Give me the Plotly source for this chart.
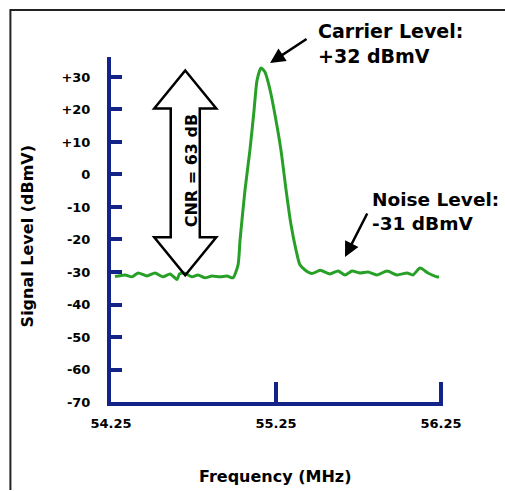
import plotly.graph_objects as go

# ---- data ----
freq_mhz = [54.274, 54.335, 54.377, 54.414, 54.468, 54.517, 54.565, 54.608, 54.650, 54.665,
            54.692, 54.741, 54.777, 54.820, 54.862, 54.911, 54.953, 54.989,
            55.020, 55.032, 55.062, 55.092, 55.117, 55.135, 55.159, 55.183, 55.214,
            55.244, 55.280, 55.311, 55.341, 55.371, 55.395, 55.426, 55.468,
            55.517, 55.577, 55.626, 55.668, 55.711, 55.759, 55.808, 55.862, 55.923,
            55.983, 56.044, 56.080, 56.123, 56.171, 56.226, 56.238]
level_dbmv = [-31.4, -30.9, -31.5, -30.3, -31.2, -30.3, -31.5, -30.6, -32.3, -30.6,
              -30.3, -31.5, -30.9, -31.8, -31.2, -31.5, -31.2, -31.8,
              -27.8, -20.2, -4.8, 7.5, 19.8, 29.0, 32.8, 31.5, 26.0,
              18.3, 7.5, -4.8, -15.5, -23.2, -27.8, -29.4, -30.5,
              -29.5, -30.6, -29.7, -30.9, -29.7, -30.3, -30.0, -30.9, -29.7,
              -30.9, -30.3, -30.9, -28.8, -30.3, -31.5, -31.5]

y_tick_vals = [-70, -60, -50, -40, -30, -20, -10, 0, 10, 20, 30]
y_tick_text = ["-70", "-60", "-50", "-40", "-30", "-20", "-10", "0", "+10", "+20", "+30"]
x_tick_vals = [54.25, 55.25, 56.25]
x_tick_text = ["54.25", "55.25", "56.25"]

carrier_level = 32
noise_level = -31
cnr_db = carrier_level - noise_level

NAVY = "rgb(20,35,135)"
GREEN = "rgb(40,160,40)"
FONT = "DejaVu Sans"

fig = go.Figure()
fig.add_trace(go.Scatter(x=freq_mhz, y=level_dbmv, mode="lines",
                         line=dict(color=GREEN, width=3, shape="spline", smoothing=0.6),
                         hoverinfo="skip", showlegend=False))

# double-headed CNR arrow (outline), spanning noise level to carrier level
fc, hw, sw, hh = 54.70, 0.188, 0.088, 11.7
top, bot = carrier_level, noise_level
path = (f"M{fc},{top} L{fc+hw},{top-hh} L{fc+sw},{top-hh} L{fc+sw},{bot+hh} "
        f"L{fc+hw},{bot+hh} L{fc},{bot} L{fc-hw},{bot+hh} L{fc-sw},{bot+hh} "
        f"L{fc-sw},{top-hh} L{fc-hw},{top-hh} Z")
fig.add_shape(type="path", path=path, xref="x", yref="y",
              line=dict(color="black", width=2.5), fillcolor="rgba(0,0,0,0)", layer="above")

# outer frame: only top and left edges are inside the picture
fig.add_shape(type="path", xref="paper", yref="paper",
              path="M-0.303,-0.255 L-0.303,1.136 L1.19,1.136",
              line=dict(color="#222", width=2), layer="below")

bold = dict(family=FONT, size=19, color="black")
fig.add_annotation(x=54.735, y=(carrier_level + noise_level) / 2 + 0.5, xref="x", yref="y",
                   text=f"<b>CNR = {cnr_db} dB</b>", textangle=-90, showarrow=False,
                   font=dict(family=FONT, size=16, color="black"))
fig.add_annotation(x=0.618, y=1.04, xref="paper", yref="paper", xanchor="left", yanchor="middle",
                   align="left", showarrow=False,
                   text=f"<b>Carrier Level:<br>+{carrier_level} dBmV</b>", font=bold)
fig.add_annotation(x=0.780, y=0.551, xref="paper", yref="paper", xanchor="left", yanchor="middle",
                   align="left", showarrow=False,
                   text=f"<b>Noise Level:<br>{noise_level} dBmV</b>",
                   font=dict(family=FONT, size=18.5, color="black"))
# pointer arrows
fig.add_annotation(x=55.214, y=34.3, xref="x", yref="y", text="", showarrow=True,
                   ax=38, ay=-25, arrowhead=2, arrowsize=1.2, arrowwidth=2.5, arrowcolor="black")
fig.add_annotation(x=55.668, y=-25.4, xref="x", yref="y", text="", showarrow=True,
                   ax=23, ay=-45, arrowhead=2, arrowsize=1.2, arrowwidth=2.5, arrowcolor="black")

# axis titles
fig.add_annotation(x=-0.252, y=0.481, xref="paper", yref="paper", xanchor="center", yanchor="middle",
                   text="<b>Signal Level (dBmV)</b>",
                   textangle=-90, showarrow=False, font=dict(family=FONT, size=16, color="black"))
fig.add_annotation(x=0.493, y=-0.217, xref="paper", yref="paper", xanchor="center", yanchor="middle",
                   text="<b>Frequency (MHz)</b>",
                   showarrow=False, font=dict(family=FONT, size=16, color="black"))

fig.update_xaxes(range=[54.25, 56.262], showline=True, linecolor=NAVY, linewidth=4,
                 showgrid=False, zeroline=False, ticks="inside", ticklen=20, tickwidth=4,
                 tickcolor=NAVY, tickvals=x_tick_vals, ticktext=x_tick_text,
                 tickfont=dict(family=FONT, size=13, color="black", weight="bold"),
                 ticklabelstandoff=6)
fig.update_yaxes(range=[-70, 36.15], showline=True, linecolor=NAVY, linewidth=4,
                 showgrid=False, zeroline=False, ticks="inside", ticklen=11, tickwidth=4,
                 tickcolor=NAVY, tickvals=y_tick_vals, ticktext=y_tick_text,
                 tickfont=dict(family=FONT, size=13, color="black", weight="bold"),
                 ticklabelstandoff=14)
fig.update_layout(width=505, height=491, margin=dict(l=111, r=62, t=57, b=89),
                  plot_bgcolor="white", paper_bgcolor="white", showlegend=False)

fig.write_html("out.html", config={"displayModeBar": False},
               post_script=("document.documentElement.style.overflow='hidden';"
                            "document.body.style.overflow='hidden';"
                            "document.body.style.margin='0';"))
